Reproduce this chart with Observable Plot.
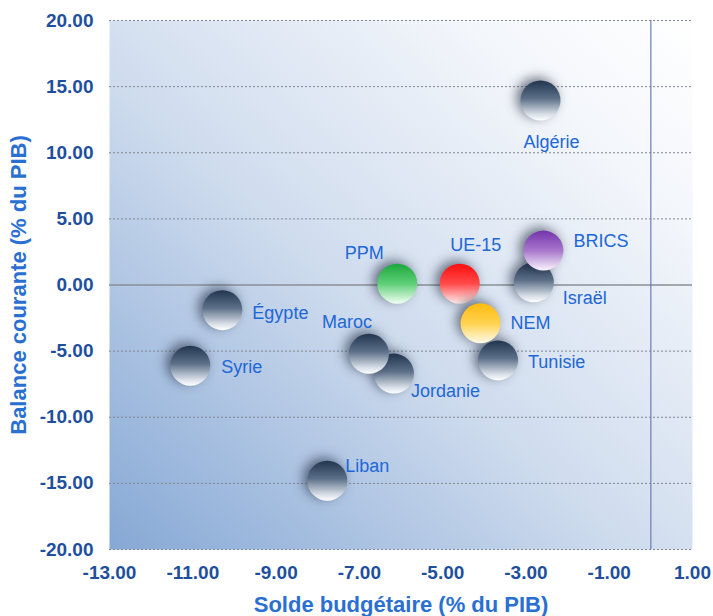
<!DOCTYPE html>
<html><head><meta charset="utf-8">
<script src="https://cdn.jsdelivr.net/npm/d3@7"></script>
<script src="https://cdn.jsdelivr.net/npm/@observablehq/plot@0.6"></script>
<style>
body{margin:0;background:#fff;font-family:Arial,"Liberation Sans",sans-serif;}
#chart svg{display:block;font-family:Arial,"Liberation Sans",sans-serif;overflow:visible;}
#chart g[aria-label="frame"]{filter:drop-shadow(5px 3px 3px rgba(0,0,0,0.35));}
#chart g[aria-label="dot"] circle{filter:drop-shadow(-4px -3px 6px rgba(20,30,50,0.6));}
</style></head><body>
<svg width="0" height="0" style="position:absolute">
<defs>
<linearGradient id="bg" x1="0" y1="1" x2="1" y2="0">
<stop offset="0" stop-color="#86a8d5"/>
<stop offset="0.45" stop-color="#cfdcee"/>
<stop offset="0.8" stop-color="#f3f6fb"/>
<stop offset="1" stop-color="#ffffff"/>
</linearGradient>
<linearGradient id="b-pays" x1="0" y1="0" x2="0" y2="1">
<stop offset="0" stop-color="#22354f"/>
<stop offset="0.45" stop-color="#5d7089"/>
<stop offset="0.85" stop-color="#d9e0e8"/>
<stop offset="1" stop-color="#ffffff"/>
</linearGradient>
<linearGradient id="b-ppm" x1="0" y1="0" x2="0" y2="1">
<stop offset="0" stop-color="#1aa83c"/>
<stop offset="0.5" stop-color="#5fcf78"/>
<stop offset="1" stop-color="#f2fff4"/>
</linearGradient>
<linearGradient id="b-ue" x1="0" y1="0" x2="0" y2="1">
<stop offset="0" stop-color="#ff0d0d"/>
<stop offset="0.5" stop-color="#ff4a4a"/>
<stop offset="1" stop-color="#fff0f0"/>
</linearGradient>
<linearGradient id="b-nem" x1="0" y1="0" x2="0" y2="1">
<stop offset="0" stop-color="#ffbb10"/>
<stop offset="0.5" stop-color="#ffd250"/>
<stop offset="1" stop-color="#fffbea"/>
</linearGradient>
<linearGradient id="b-brics" x1="0" y1="0" x2="0" y2="1">
<stop offset="0" stop-color="#7434ac"/>
<stop offset="0.5" stop-color="#a877cc"/>
<stop offset="1" stop-color="#fbf6ff"/>
</linearGradient>
</defs></svg>
<div id="chart"></div>
<script>
// Data (drawing order: later items on top)
const pays = ["Algérie","Israël","Tunisie","Égypte","Jordanie","Maroc","Syrie","Liban","PPM","UE-15","NEM","BRICS"];
const soldeBudgetaire = [-2.65,-2.81,-3.67,-10.29,-6.17,-6.77,-11.06,-7.77,-6.09,-4.59,-4.09,-2.58];
const balanceCourante = [13.95,0.2,-5.7,-1.9,-6.7,-5.2,-6.1,-14.8,0.1,0.1,-2.9,2.6];
const groupe = ["pays","pays","pays","pays","pays","pays","pays","pays","PPM","UE-15","NEM","BRICS"];
const xTicks = [-13,-11,-9,-7,-5,-3,-1,1];
const yTicks = [-20,-15,-10,-5,0,5,10,15,20];

// Styling / layout helpers
const gradientOf = {"pays":"url(#b-pays)","PPM":"url(#b-ppm)","UE-15":"url(#b-ue)","NEM":"url(#b-nem)","BRICS":"url(#b-brics)"};
const labelPlacement = {
  "Algérie":{dx:11,dy:42,anchor:"middle"},
  "BRICS":{dx:30,dy:-9,anchor:"start"},
  "Israël":{dx:29,dy:16,anchor:"start"},
  "UE-15":{dx:16,dy:-38,anchor:"middle"},
  "NEM":{dx:30,dy:0,anchor:"start"},
  "Tunisie":{dx:30,dy:2,anchor:"start"},
  "PPM":{dx:-33,dy:-30,anchor:"middle"},
  "Égypte":{dx:30,dy:3,anchor:"start"},
  "Maroc":{dx:-22,dy:-32,anchor:"middle"},
  "Jordanie":{dx:17,dy:18,anchor:"start"},
  "Syrie":{dx:31,dy:2,anchor:"start"},
  "Liban":{dx:18,dy:-14,anchor:"start"}
};

const data = pays.map((p,i)=>({pays:p, x:soldeBudgetaire[i], y:balanceCourante[i], groupe:groupe[i]}));
const fmt = d => (Math.abs(d) < 1e-9 ? 0 : d).toFixed(2);

const labelMarks = Object.entries(labelPlacement).map(([name,pl]) =>
  Plot.text(data.filter(d => d.pays === name), {
    x:"x", y:"y", text:"pays", dx:pl.dx, dy:pl.dy, textAnchor:pl.anchor,
    fontSize:18, fill:"#2067d6"
  })
);

const chart = Plot.plot({
  width:713, height:616,
  marginLeft:109, marginRight:21, marginTop:20, marginBottom:67,
  x:{domain:[-13,1]},
  y:{domain:[-20,20]},
  color:{type:"identity"},
  marks:[
    Plot.frame({fill:"url(#bg)", stroke:null}),
    Plot.ruleY(yTicks.filter(v => v !== 0), {stroke:"#7f8790", strokeWidth:1, strokeDasharray:"2,2"}),
    Plot.ruleY([0], {stroke:"#8a8f96", strokeWidth:1.3}),
    Plot.ruleX([0], {stroke:"#6e7cb4", strokeWidth:1.2}),
    Plot.axisY(yTicks, {tickSize:0, tickPadding:16, tickFormat:fmt, fontSize:19, fontWeight:"bold", color:"#1e4f9e", label:null}),
    Plot.axisX(xTicks, {tickSize:0, tickPadding:16, tickFormat:fmt, fontSize:19, fontWeight:"bold", color:"#1e4f9e", label:null}),
    Plot.dot(data, {x:"x", y:"y", r:20, fill:d => gradientOf[d.groupe], stroke:null}),
    ...labelMarks,
    Plot.text(["Solde budgétaire (% du PIB)"], {frameAnchor:"bottom", dy:55, lineAnchor:"middle", text:d=>d, fontSize:22, fontWeight:"bold", fill:"#2a6fd2"}),
    Plot.text(["Balance courante (% du PIB)"], {frameAnchor:"left", dx:-91, textAnchor:"middle", rotate:-90, text:d=>d, fontSize:22, fontWeight:"bold", fill:"#2a6fd2"})
  ]
});
document.getElementById("chart").appendChild(chart);
</script>
</body></html>
